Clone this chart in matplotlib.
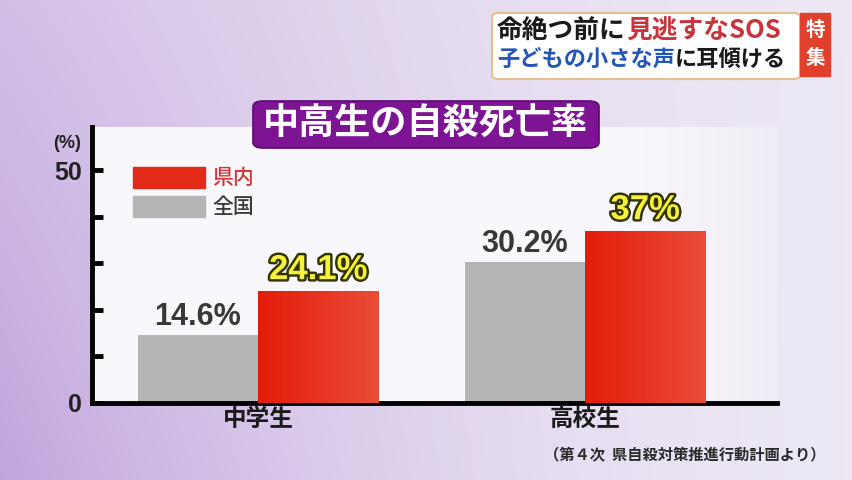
import numpy as np
import matplotlib
matplotlib.use("Agg")
import matplotlib.pyplot as plt
from matplotlib.patches import FancyBboxPatch, Rectangle
import matplotlib.patheffects as pe

plt.rcParams['font.family'] = ['Noto Sans CJK JP', 'DejaVu Sans']

# ---- data ----
categories = ["中学生", "高校生"]
national = [14.6, 30.2]      # 全国
prefecture = [24.1, 37.0]    # 県内
national_labels = ["14.6%", "30.2%"]
prefecture_labels = ["24.1%", "37%"]
series_names = ["県内", "全国"]
title = "中高生の自殺死亡率"
source = "（第４次  県自殺対策推進行動計画より）"

W, H = 853, 480
fig = plt.figure(figsize=(W / 100, H / 100), dpi=100)

# ---- background ----
bg = fig.add_axes([0, 0, 1, 1], zorder=-10)
bg.set_axis_off()
yy, xx = np.mgrid[0:1:240j, 0:1:430j]
light = np.array([0.93, 0.91, 0.96])
purple = np.array([0.74, 0.62, 0.86])
w = np.clip(0.55 * (1 - xx) ** 1.5 + 0.35 * yy * (1 - xx) ** 2, 0, 1)
img = light * (1 - w[..., None]) + purple * w[..., None]
bg.imshow(img, extent=[0, 1, 0, 1], origin='upper', aspect='auto')
bg.set_xlim(0, 1)
bg.set_ylim(0, 1)

# white panel
ax_l, ax_r, ax_b, ax_t = 92 / W, 777 / W, 1 - 403 / H, 1 - 127 / H
panel = fig.add_axes([ax_l, ax_b, ax_r - ax_l, ax_t - ax_b], zorder=-5)
panel.set_axis_off()
px = np.linspace(0, 1, 300)
pimg = np.ones((2, 300, 3)) * np.array([0.975, 0.97, 0.985])
fade = np.clip((px - 0.8) / 0.2, 0, 1)[None, :, None]
pimg = pimg * (1 - 0.5 * fade) + np.array([0.91, 0.88, 0.95]) * 0.5 * fade
panel.imshow(pimg, extent=[0, 1, 0, 1], aspect='auto')

# ---- main axes ----
ax = fig.add_axes([ax_l, ax_b, ax_r - ax_l, ax_t - ax_b])
ax.set_facecolor('none')
x = np.arange(len(categories))
bw = 0.368
gray_bars = ax.bar(x - bw / 2, national, bw, color='#b5b5b5', zorder=2)
red_bars = ax.bar(x + bw / 2, prefecture, bw, color='#e42a18', zorder=2)

# gradient on red bars
grad = np.linspace(0, 1, 100)[None, :, None]
rimg = np.array([0.89, 0.11, 0.04]) * (1 - grad) + np.array([0.92, 0.30, 0.22]) * grad
for b in red_bars:
    im = ax.imshow(rimg, extent=[b.get_x(), b.get_x() + b.get_width(), 0, b.get_height()],
                   aspect='auto', zorder=3)
    im.set_clip_path(b)

ax.set_xlim(-0.508, 1.587)
ax.set_ylim(0, 59.3)
for s in ['top', 'right']:
    ax.spines[s].set_visible(False)
ax.spines['left'].set_linewidth(3.5)
ax.spines['bottom'].set_linewidth(3.5)
ax.spines['left'].set_color('black')
ax.spines['bottom'].set_color('black')
ax.set_yticks([0, 10, 20, 30, 40, 50])
ax.set_yticklabels(['0', '', '', '', '', '50'], fontfamily='Liberation Sans',
                   fontweight='bold', fontsize=18, color='#222222')
ax.tick_params(axis='y', direction='in', length=8, width=3.5, pad=7)
ax.set_xticks(x)
ax.set_xticklabels(categories, fontsize=17, fontweight='bold', color='#1a1a1a')
ax.tick_params(axis='x', length=0, pad=3)

fig.text(67 / W, 1 - 144 / H, "(%)", ha='center', va='center',
         fontsize=13, fontweight='bold', color='#222222', family='Liberation Sans')

# value labels
for b, lab in zip(gray_bars, national_labels):
    ax.text(b.get_x() + b.get_width() / 2, b.get_height() + 0.7, lab, ha='center',
            va='bottom', fontsize=22, fontweight='bold', color='#383838',
            family='Liberation Sans', zorder=5)
for b, lab in zip(red_bars, prefecture_labels):
    ax.text(b.get_x() + b.get_width() / 2, b.get_height() + 1.0, lab, ha='center',
            va='bottom', fontsize=25, fontweight='bold', color='#f4f23a',
            family='Liberation Sans', zorder=5,
            path_effects=[pe.withStroke(linewidth=3.5, foreground='#333300')])

# legend (manual)
leg_cols = ['#e42a18', '#b5b5b5']
leg_txtc = ['#d03838', '#3a3a3a']
for i, (nm, c, tc) in enumerate(zip(series_names, leg_cols, leg_txtc)):
    y0 = 1 - (167 + 29 * i) / H
    fig.patches.append(Rectangle((133 / W, y0 - 21 / H), 72 / W, 21 / H,
                                 transform=fig.transFigure, color=c, zorder=4))
    fig.text(212 / W, y0 - 11 / H, nm, ha='left', va='center', fontsize=15,
             color=tc, fontweight='medium')

# title box
tb = FancyBboxPatch((253 / W, 1 - 148 / H), 346 / W, 47 / H,
                    boxstyle="round,pad=0,rounding_size=0.012",
                    transform=fig.transFigure, facecolor='#7d1493',
                    edgecolor='#5a0a70', linewidth=1.2, zorder=6)
fig.patches.append(tb)
fig.text(425 / W, 1 - 124.5 / H, title, ha='center', va='center', fontsize=26,
         fontweight='bold', color='white', zorder=7)

# header box
hb = FancyBboxPatch((492 / W, 1 - 79 / H), 308 / W, 66 / H,
                    boxstyle="round,pad=0,rounding_size=0.008",
                    transform=fig.transFigure, facecolor='white',
                    edgecolor='#e8c090', linewidth=1.5, zorder=6)
fig.patches.append(hb)
fig.patches.append(Rectangle((800 / W, 1 - 76 / H), 30 / W, 63 / H,
                             transform=fig.transFigure, color='#e0402c', zorder=6))
fig.text(815 / W, 1 - 30 / H, "特", ha='center', va='center', fontsize=14,
         fontweight='bold', color='white', zorder=7)
fig.text(815 / W, 1 - 58 / H, "集", ha='center', va='center', fontsize=14,
         fontweight='bold', color='white', zorder=7)

renderer = fig.canvas.get_renderer()


def seg_line(x0, yc, parts, fs):
    xp = x0
    for s, col in parts:
        t = fig.text(xp / W, yc, s, ha='left', va='center', fontsize=fs,
                     fontweight='bold', color=col, zorder=7)
        bb = t.get_window_extent(renderer)
        xp = bb.x1


seg_line(497, 1 - 31 / H, [("命絶つ前に", '#1a1a1a'), ("見逃すなSOS", '#c8343c')], 18.5)
seg_line(497, 1 - 59 / H, [("子どもの小さな声", '#2456b8'), ("に耳傾ける", '#1a1a1a')], 16)

# source
fig.text(826 / W, 1 - 455 / H, source, ha='right', va='center', fontsize=11,
         fontweight='bold', color='#2a2a2a')

fig.savefig("out.png", dpi=100)
